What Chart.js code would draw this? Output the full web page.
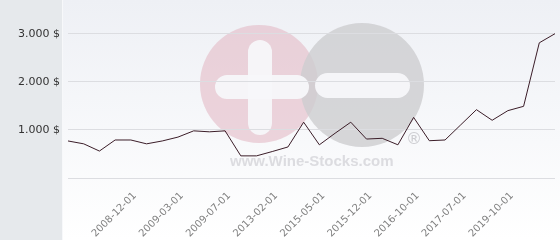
<!DOCTYPE html>
<html>
<head>
<meta charset="utf-8">
<script src="https://cdn.jsdelivr.net/npm/chart.js@4"></script>
<style>
  html, body { margin: 0; padding: 0; background: #ffffff; }
  #wrap { width: 560px; height: 240px; position: relative; }
</style>
</head>
<body>
<div id="wrap"><canvas id="priceChart" width="560" height="240"></canvas></div>
<script>
// Chart data
const dates = ['', '', '', '', '2008-12-01', '', '', '2009-03-01', '', '', '2009-07-01', '',
               '', '2013-02-01', '', '', '2015-05-01', '', '', '2015-12-01', '', '',
               '2016-10-01', '', '', '2017-07-01', '', '', '2019-10-01', '', '', ''];
const prices = [770, 710, 560, 790, 790, 710, 770, 850, 980, 960, 980, 460,
                460, 550, 645, 1160, 690, 930, 1160, 810, 825, 690,
                1260, 775, 790, 1105, 1420, 1200, 1400, 1490, 2810, 3000];
const yTicks = [0, 1000, 2000, 3000];
const yTickLabels = ['', '1.000 $', '2.000 $', '3.000 $'];

const FONT = 'DejaVu Sans';

// Backdrop: grey label panel, soft gradient behind plot, watermark logo
const backdrop = {
    id: 'backdrop',
    beforeDraw(chart) {
        const ctx = chart.ctx;
        const w = chart.width, h = chart.height;
        ctx.save();
        const grad = ctx.createLinearGradient(0, 0, 0, h);
        grad.addColorStop(0, '#eef0f5');
        grad.addColorStop(1, '#ffffff');
        ctx.fillStyle = grad;
        ctx.fillRect(63, 0, w - 63, h);
        ctx.fillStyle = '#e6e9ec';
        ctx.fillRect(0, 0, 62, h);
        ctx.fillStyle = '#f7f8fa';
        ctx.fillRect(62, 0, 1, h);

        // watermark
        ctx.fillStyle = 'rgba(226, 180, 193, 0.55)';
        ctx.beginPath();
        ctx.arc(259, 84, 59, 0, Math.PI * 2);
        ctx.fill();
        ctx.fillStyle = 'rgba(205, 205, 208, 0.8)';
        ctx.beginPath();
        ctx.arc(362, 85, 62, 0, Math.PI * 2);
        ctx.fill();

        ctx.fillStyle = 'rgba(247, 247, 250, 0.95)';
        const bar = (x, y, bw, bh) => {
            const r = Math.min(bw, bh) / 2;
            ctx.beginPath();
            ctx.roundRect(x, y, bw, bh, r);
            ctx.fill();
        };
        bar(248, 40, 24, 95);
        bar(215, 75, 94, 24);
        bar(315, 73, 95, 25);

        ctx.fillStyle = 'rgba(218, 218, 222, 0.95)';
        ctx.font = 'bold 15px "Liberation Sans"';
        ctx.textBaseline = 'alphabetic';
        ctx.textAlign = 'left';
        ctx.fillText('www.Wine-Stocks.com', 230, 166);
        ctx.fillStyle = 'rgba(200, 200, 204, 0.9)';
        ctx.font = '16px "DejaVu Sans"';
        ctx.textAlign = 'center';
        ctx.textBaseline = 'middle';
        ctx.fillText('\u00ae', 414, 140);
        ctx.restore();
    }
};

const chartCtx = document.getElementById('priceChart').getContext('2d');

const priceChart = new Chart(chartCtx, {
    type: 'line',
    data: {
        labels: dates,
        datasets: [{
            data: prices,
            borderColor: '#3b1d28',
            borderWidth: 1,
            pointRadius: 0,
            tension: 0,
            fill: false
        }]
    },
    options: {
        responsive: false,
        animation: false,
        layout: { padding: { top: 0, right: 5, bottom: 0, left: 0 } },
        plugins: {
            legend: { display: false },
            tooltip: { enabled: false }
        },
        scales: {
            x: {
                grid: { display: false },
                border: { display: false },
                afterFit(scale) {
                    scale.height = 62;
                    scale.paddingLeft = 0;
                    scale.paddingRight = 0;
                },
                ticks: {
                    autoSkip: false,
                    minRotation: 45,
                    maxRotation: 45,
                    padding: 4,
                    labelOffset: 4,
                    color: '#808080',
                    font: { family: FONT, size: 10 }
                }
            },
            y: {
                min: 0,
                max: 3700,
                afterBuildTicks(scale) {
                    scale.ticks = yTicks.map(v => ({ value: v }));
                },
                afterFit(scale) {
                    scale.width = 68;
                    scale.paddingTop = 0;
                    scale.paddingBottom = 0;
                },
                grid: { color: '#dcdde1', lineWidth: 1, drawTicks: false },
                border: { display: false },
                ticks: {
                    padding: 8,
                    color: '#333333',
                    font: { family: FONT, size: 11 },
                    callback: function(value) {
                        const i = yTicks.indexOf(value);
                        return i >= 0 ? yTickLabels[i] : '';
                    }
                }
            }
        }
    },
    plugins: [backdrop]
});
</script>
</body>
</html>
